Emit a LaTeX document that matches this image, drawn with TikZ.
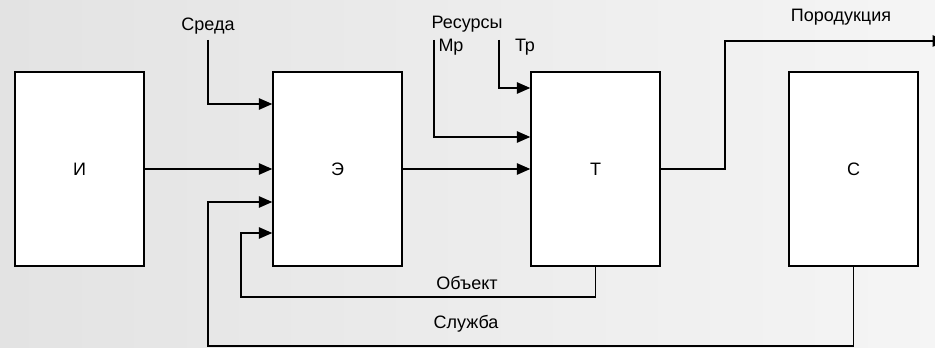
\documentclass[tikz,border=0pt]{standalone}
\usepackage{fontspec}
\setmainfont{Liberation Sans}
\usetikzlibrary{arrows.meta}
\begin{document}
\begin{tikzpicture}[
            x=0.75pt, y=-0.75pt,
            font=\fontsize{13.5}{15}\selectfont,
            blk/.style={draw, line width=1.1pt, fill=white, minimum width=96.75pt, minimum height=145.5pt, inner sep=0pt},
            con/.style={line width=1.1pt},
            arr/.style={con, -{Triangle[length=10pt, width=8.5pt]}}
                           ]
            % 1. Background and bounding box
            \fill[left color=black!11, right color=black!4] (0,0) rectangle (935,348);
            \useasboundingbox (0,0) rectangle (935,348);

            % 2. The four blocks
            \node[blk] (box_i) at (79.5,169)  {И};
            \node[blk] (box_e) at (337.5,169) {Э};
            \node[blk] (box_t) at (595.5,169) {Т};
            \node[blk] (box_s) at (853.5,169) {С};

            % 3. Free ends and turning points of the connectors
            \coordinate (sreda_in) at (208,40);
            \coordinate (mr_in)    at (434,40);
            \coordinate (tr_in)    at (499,40);
            \coordinate (prod_up)  at (725,41);
            \coordinate (prod_out) at (946,41);
            \coordinate (obj_turn) at (241,297);
            \coordinate (serv_turn) at (208,346);

            % 4. Labels
            \node (sreda) at (208,26) {Среда};
            \node (res)   at (467,24) {Ресурсы};
            \node (mr)    at (451,47) {Мр};
            \node (tr)    at (525,47) {Тр};
            \node (prod)  at (841,17) {Породукция};
            \node (obj)   at (467,283) {Объект};
            \node (serv)  at (466,324) {Служба};

            % 5. Inputs of the block Э
            \draw[arr] (sreda_in) |- (box_e.west |- 0,104);
            \draw[arr] (box_i.east) -- (box_e.west);
            \draw[arr] (box_s.south) |- (serv_turn) |- (box_e.west |- 0,202);
            \draw[arr] (box_t.south) |- (obj_turn) |- (box_e.west |- 0,233);

            % 6. Inputs of the block T
            \draw[arr] (tr_in) |- (box_t.west |- 0,88);
            \draw[arr] (mr_in) |- (box_t.west |- 0,137);
            \draw[arr] (box_e.east) -- (box_t.west);

            % 7. Output
            \draw[arr] (box_t.east) -| (prod_up) -- (prod_out);

        \end{tikzpicture}
\end{document}
